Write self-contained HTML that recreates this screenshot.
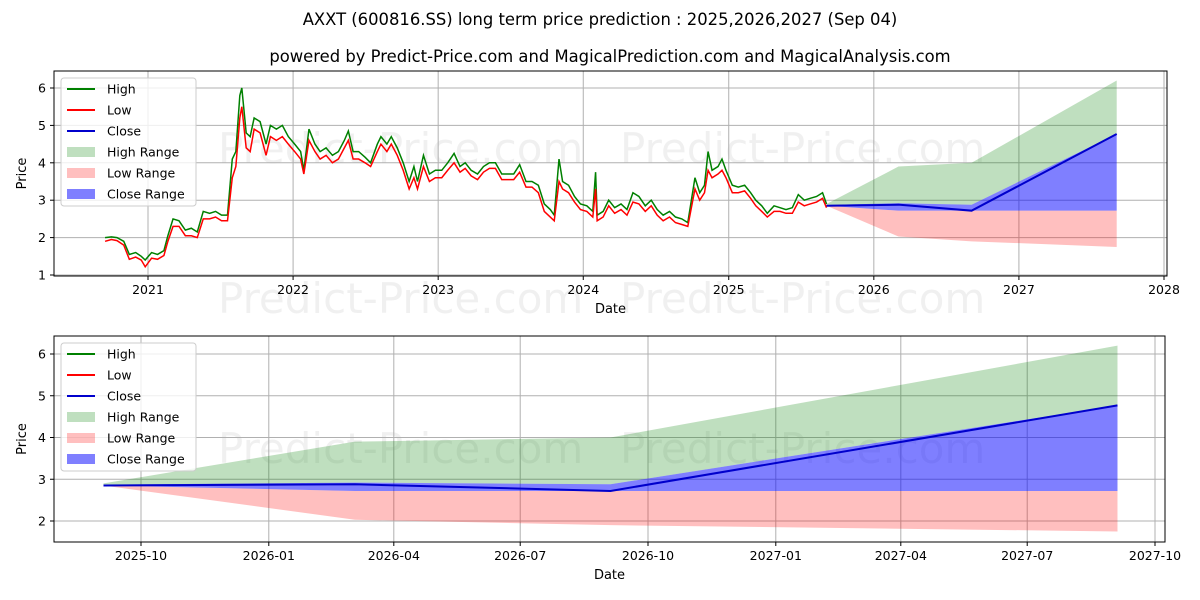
<!DOCTYPE html>
<html><head><meta charset="utf-8"><style>
body{margin:0;background:#fff;}
svg{display:block;font-family:"DejaVu Sans","Liberation Sans",sans-serif;}
</style></head><body>
<svg id="c" width="1200" height="600" xmlns="http://www.w3.org/2000/svg">
<text x="600" y="25" text-anchor="middle" font-size="16.4">AXXT (600816.SS) long term price prediction : 2025,2026,2027 (Sep 04)</text>
<text x="610" y="62" text-anchor="middle" font-size="16.4">powered by Predict-Price.com and MagicalPrediction.com and MagicalAnalysis.com</text>
</svg>
<script>
const histDates=["2020-09-15","2020-10-01","2020-10-15","2020-11-01","2020-11-15","2020-12-01","2020-12-15","2020-12-25","2021-01-10","2021-01-25","2021-02-10","2021-02-20","2021-03-05","2021-03-20","2021-04-05","2021-04-20","2021-05-05","2021-05-20","2021-06-05","2021-06-20","2021-07-05","2021-07-20","2021-08-01","2021-08-10","2021-08-20","2021-08-25","2021-09-05","2021-09-15","2021-09-25","2021-10-10","2021-10-25","2021-11-05","2021-11-20","2021-12-05","2021-12-20","2022-01-05","2022-01-20","2022-01-28","2022-02-10","2022-02-25","2022-03-10","2022-03-25","2022-04-10","2022-04-25","2022-05-10","2022-05-20","2022-06-01","2022-06-15","2022-07-01","2022-07-15","2022-08-01","2022-08-10","2022-08-25","2022-09-05","2022-09-20","2022-10-05","2022-10-20","2022-11-01","2022-11-10","2022-11-25","2022-12-10","2022-12-25","2023-01-10","2023-01-25","2023-02-10","2023-02-25","2023-03-10","2023-03-25","2023-04-10","2023-04-25","2023-05-10","2023-05-25","2023-06-10","2023-06-25","2023-07-10","2023-07-25","2023-08-10","2023-08-25","2023-09-10","2023-09-25","2023-10-10","2023-10-20","2023-11-01","2023-11-10","2023-11-25","2023-12-10","2023-12-25","2024-01-10","2024-01-25","2024-02-01","2024-02-05","2024-02-20","2024-03-05","2024-03-20","2024-04-05","2024-04-20","2024-05-05","2024-05-20","2024-06-05","2024-06-20","2024-07-05","2024-07-20","2024-08-05","2024-08-20","2024-09-05","2024-09-20","2024-10-08","2024-10-20","2024-11-01","2024-11-10","2024-11-20","2024-12-05","2024-12-15","2024-12-25","2025-01-10","2025-01-25","2025-02-10","2025-02-25","2025-03-10","2025-03-25","2025-04-08","2025-04-25","2025-05-10","2025-05-25","2025-06-10","2025-06-25","2025-07-10","2025-07-25","2025-08-10","2025-08-25","2025-09-04"];
const histHigh=[2.0,2.02,2.0,1.9,1.55,1.6,1.5,1.4,1.6,1.55,1.65,2.05,2.5,2.45,2.2,2.25,2.15,2.7,2.65,2.7,2.6,2.6,4.1,4.3,5.8,6.0,4.8,4.7,5.2,5.1,4.5,5.0,4.9,5.0,4.7,4.5,4.3,3.8,4.9,4.5,4.3,4.4,4.2,4.3,4.6,4.85,4.3,4.3,4.15,4.0,4.5,4.7,4.5,4.7,4.4,4.0,3.5,3.9,3.5,4.2,3.7,3.8,3.8,4.0,4.25,3.9,4.0,3.8,3.7,3.9,4.0,4.0,3.7,3.7,3.7,3.95,3.5,3.5,3.4,2.9,2.75,2.6,4.1,3.5,3.4,3.1,2.9,2.85,2.7,3.75,2.6,2.7,3.0,2.8,2.9,2.75,3.2,3.1,2.85,3.0,2.75,2.6,2.7,2.55,2.5,2.4,3.6,3.2,3.4,4.3,3.8,3.9,4.1,3.8,3.4,3.35,3.4,3.2,3.0,2.85,2.65,2.85,2.8,2.75,2.8,3.15,3.0,3.05,3.1,3.2,2.9];
const histLow=[1.9,1.95,1.92,1.8,1.42,1.48,1.4,1.22,1.45,1.42,1.52,1.9,2.3,2.3,2.05,2.05,2.0,2.5,2.5,2.55,2.45,2.45,3.6,3.9,5.2,5.5,4.4,4.3,4.9,4.8,4.2,4.7,4.6,4.7,4.5,4.3,4.1,3.7,4.6,4.3,4.1,4.2,4.0,4.1,4.4,4.6,4.1,4.1,4.0,3.9,4.3,4.5,4.3,4.5,4.2,3.8,3.3,3.6,3.3,3.9,3.5,3.6,3.6,3.8,4.0,3.75,3.85,3.65,3.55,3.75,3.85,3.85,3.55,3.55,3.55,3.75,3.35,3.35,3.2,2.7,2.55,2.45,3.5,3.3,3.2,2.95,2.75,2.7,2.55,3.3,2.45,2.55,2.85,2.65,2.75,2.6,2.95,2.9,2.7,2.85,2.6,2.45,2.55,2.4,2.35,2.3,3.3,3.0,3.2,3.8,3.6,3.7,3.8,3.6,3.2,3.2,3.25,3.05,2.85,2.7,2.55,2.7,2.7,2.65,2.65,2.95,2.85,2.9,2.95,3.05,2.8];
const predDates=["2025-09-04","2026-03-04","2026-09-04","2027-09-04"];
const predClose=[2.85,2.88,2.72,4.77];
const highRangeTop=[2.9,3.9,4.0,6.2];
const highRangeBot=[2.85,2.92,2.88,4.77];
const lowRangeTop=[2.85,2.72,2.72,2.72];
const lowRangeBot=[2.85,2.03,1.9,1.75];
const closeRangeTop=[2.87,2.92,2.88,4.77];
const closeRangeBot=[2.85,2.72,2.72,2.72];
const topYTicks=[1,2,3,4,5,6];
const topXTicks=["2021","2022","2023","2024","2025","2026","2027","2028"];
const botYTicks=[2,3,4,5,6];
const botXTicks=["2025-10","2026-01","2026-04","2026-07","2026-10","2027-01","2027-04","2027-07","2027-10"];

const NS="http://www.w3.org/2000/svg";
const svg=document.getElementById('c');
function el(t,a,p){const e=document.createElementNS(NS,t);for(const k in a)e.setAttribute(k,a[k]);(p||svg).appendChild(e);return e;}
function day(s){return Date.parse(s.length===4?s+"-01-01":(s.length===7?s+"-01":s))/86400000;}

function panel(cfg){
  const g=el('g',{});
  
  
  const {L,R,T,B}=cfg;
  const x=d=>cfg.x0+(day(d)-day(cfg.d0))*cfg.pxDay;
  const y=v=>cfg.y0-(v-cfg.v0)*cfg.pxUnit;
  cfg.wm.forEach(w=>{const t=el('text',{x:w[0],y:w[1],'font-size':42,fill:'#000','fill-opacity':0.06},g);t.textContent='Predict-Price.com';
    });
  cfg.xt.forEach(s=>{const xx=x(s);el('line',{x1:xx,x2:xx,y1:T,y2:B,stroke:'#b0b0b0','stroke-width':1},g);
    el('line',{x1:xx,x2:xx,y1:B,y2:B+4,stroke:'#000'},g);
    const t=el('text',{x:xx,y:B+18,'text-anchor':'middle','font-size':12.5},g);t.textContent=s;
    });
  cfg.yt.forEach(v=>{const yy=y(v);el('line',{x1:L,x2:R,y1:yy,y2:yy,stroke:'#b0b0b0','stroke-width':1},g);
    el('line',{x1:L-4,x2:L,y1:yy,y2:yy,stroke:'#000'},g);
    const t=el('text',{x:L-8,y:yy+4.5,'text-anchor':'end','font-size':12.5},g);t.textContent=v;
    });
  function area(top,bot,fill,op,name){
    let d='M'+predDates.map((s,i)=>x(s)+','+y(top[i])).join('L');
    d+='L'+predDates.map((s,i)=>[x(s),y(bot[i])]).reverse().map(p=>p.join(',')).join('L')+'Z';
    const p=el('path',{d:d,fill:fill,'fill-opacity':op},g);
    }
  area(highRangeTop,highRangeBot,'#008000',0.25,'high-range-area');
  area(lowRangeTop,lowRangeBot,'#ff0000',0.25,'low-range-area');
  area(closeRangeTop,closeRangeBot,'#0000ff',0.5,'close-range-area');
  if(cfg.hist){
    const ph=el('polyline',{points:histDates.map((s,i)=>x(s)+','+y(histHigh[i])).join(' '),fill:'none',stroke:'#008000','stroke-width':1.5},g);
    
    const pl=el('polyline',{points:histDates.map((s,i)=>x(s)+','+y(histLow[i])).join(' '),fill:'none',stroke:'#ff0000','stroke-width':1.5},g);
    
  }
  const pc=el('polyline',{points:predDates.map((s,i)=>x(s)+','+y(predClose[i])).join(' '),fill:'none',stroke:'#0000cc','stroke-width':2},g);
  
  el('rect',{x:L,y:T,width:R-L,height:B-T,fill:'none',stroke:'#000','stroke-width':1},g);
  const xl=el('text',{x:(L+R)/2,y:B+37,'text-anchor':'middle','font-size':13},g);xl.textContent='Date';
  
  const yl=el('text',{x:0,y:0,'text-anchor':'middle','font-size':13,transform:`translate(26,${(T+B)/2}) rotate(-90)`},g);yl.textContent='Price';
  
  const lg=el('g',{},g);
  
  el('rect',{x:61,y:T+7,width:135,height:128,rx:3,fill:'#fff','fill-opacity':0.8,stroke:'#ccc'},lg);
  const items=[['High','line','#008000'],['Low','line','#ff0000'],['Close','line','#0000cc'],['High Range','box','rgba(0,128,0,0.25)'],['Low Range','box','rgba(255,0,0,0.25)'],['Close Range','box','rgba(0,0,255,0.5)']];
  items.forEach((it,i)=>{const cy=T+18+i*21;
    if(it[1]==='line')el('line',{x1:67,x2:95,y1:cy,y2:cy,stroke:it[2],'stroke-width':2},lg);
    else el('rect',{x:67,y:cy-5,width:28,height:10,fill:it[2]},lg);
    const t=el('text',{x:107,y:cy+4.5,'font-size':12.5},lg);t.textContent=it[0];
    });
}
panel({name:'long-term-panel',L:54,R:1167,T:71,B:276,x0:148,d0:'2021-01-01',pxDay:1016/2556,y0:275,v0:1,pxUnit:37.4,
  xt:topXTicks,yt:topYTicks,hist:true,wm:[[218,163],[620,163],[218,313],[620,313]]});
panel({name:'prediction-panel',L:54,R:1165,T:336,B:542,x0:141,d0:'2025-10-01',pxDay:1014/730,y0:521,v0:2,pxUnit:41.75,
  xt:botXTicks,yt:botYTicks,hist:false,wm:[[218,463],[620,463]]});
</script>
</body></html>
